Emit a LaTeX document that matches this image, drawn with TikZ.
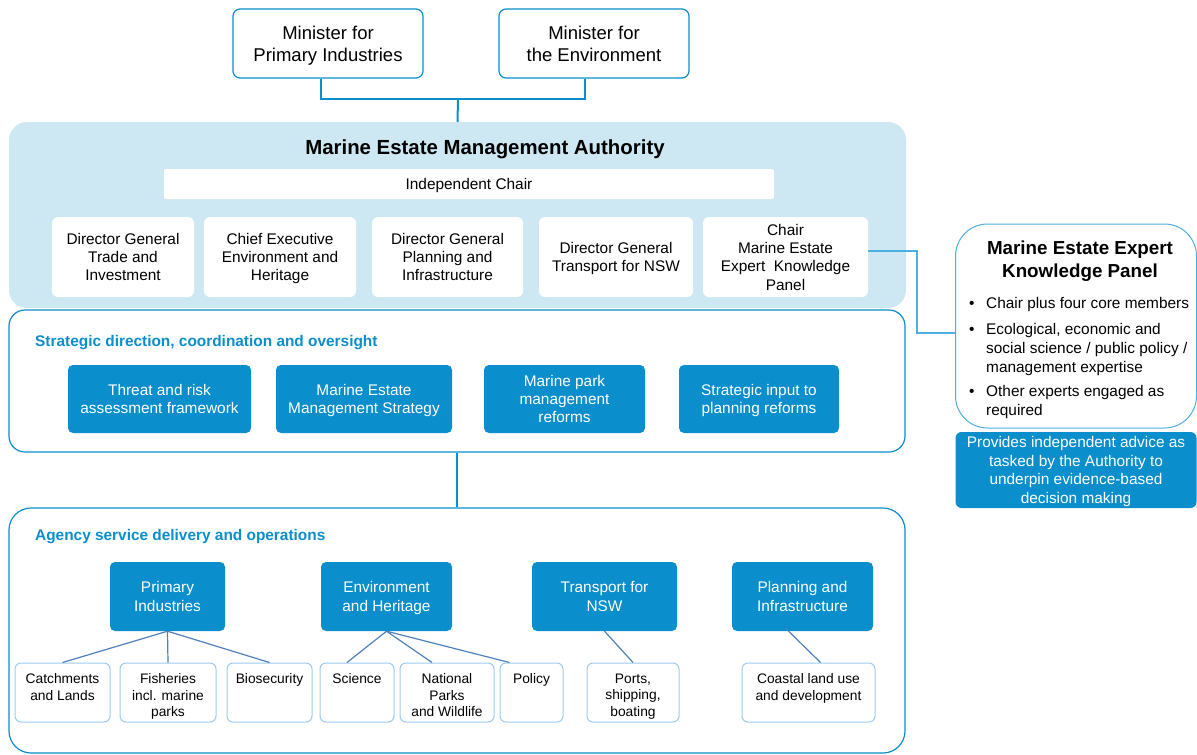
\documentclass[tikz,border=0pt]{standalone}
\usepackage{fontspec}
\setmainfont{Liberation Sans}
\definecolor{mblue}{HTML}{0A8ECC}
\definecolor{lightfill}{HTML}{CDE8F3}
\definecolor{subline}{HTML}{9DCBF0}
\definecolor{treeline}{HTML}{4F81BD}
\definecolor{paneline}{HTML}{4DAEE3}
\begin{document}
\begin{tikzpicture}[x=1pt,y=-1pt,
 minbox/.style={draw=mblue, line width=1.2pt, rounded corners=7pt, fill=white, align=center, inner sep=0pt, text depth=0pt, font=\fontsize{18.5}{22}\selectfont},
 authbox/.style={fill=lightfill, rounded corners=18pt, inner sep=0pt},
 wbox/.style={fill=white, rounded corners=6pt, align=center, inner sep=0pt, text depth=0pt, font=\fontsize{15.4}{18.3}\selectfont},
 secbox/.style={draw=mblue, line width=1.2pt, fill=white, rounded corners=16pt, inner sep=0pt},
 bbox/.style={fill=mblue, text=white, rounded corners=5pt, align=center, inner sep=0pt, text depth=0pt, font=\fontsize{15.4}{18.3}\selectfont},
 subbox/.style={draw=subline, line width=1pt, fill=white, rounded corners=6pt, inner sep=0pt},
 subtext/.style={anchor=north, align=center, inner sep=0pt, font=\fontsize{13.8}{16.5}\selectfont},
 sectitle/.style={anchor=base west, text=mblue, font=\bfseries\fontsize{15.4}{18}\selectfont, inner sep=0pt},
 conn/.style={draw=mblue, line width=2pt},
 treeconn/.style={draw=treeline, line width=1.2pt},
 panconn/.style={draw=paneline, line width=1.2pt},
 bodytext/.style={anchor=base west, align=left, inner sep=0pt, font=\fontsize{15.4}{19}\selectfont},
]
\useasboundingbox (0,0) rectangle (1197,755);

% Ministers
\node[minbox, minimum width=190pt, minimum height=69pt] (mpi) at (328,43.5) {Minister for\\Primary Industries};
\node[minbox, minimum width=190pt, minimum height=69pt] (menv) at (594,43.5) {Minister for\\the Environment};

% Authority
\node[authbox, minimum width=897pt, minimum height=186pt] (auth) at (457.5,215) {};
\coordinate (jn) at (458,99);
\draw[conn] ([xshift=-7pt]mpi.south) |- (jn) -| ([xshift=-9pt]menv.south);
\draw[conn] (jn) -- (auth.north);
\node[anchor=base, inner sep=0pt, font=\bfseries\fontsize{20.4}{24}\selectfont] (authtitle) at (485,154) {Marine Estate Management Authority};
\node[fill=white, rounded corners=2pt, inner sep=0pt, minimum width=610pt, minimum height=30pt, text depth=0pt, font=\fontsize{15.4}{18.3}\selectfont] (chair) at (469,184) {Independent Chair};

\node[wbox, minimum width=142pt, minimum height=80pt] (c1) at (123,257) {Director General\\Trade and\\Investment};
\node[wbox, minimum width=152pt, minimum height=80pt] (c2) at (280,257) {Chief Executive\\Environment and\\Heritage};
\node[wbox, minimum width=151pt, minimum height=80pt] (c3) at (447.5,257) {Director General\\Planning and\\Infrastructure};
\node[wbox, minimum width=154pt, minimum height=80pt] (c4) at (616,257) {Director General\\Transport for NSW};
\node[wbox, minimum width=165pt, minimum height=80pt] (c5) at (785.5,257) {Chair\\Marine Estate\\Expert\ \ Knowledge\\Panel};

% Strategic
\node[secbox, minimum width=896pt, minimum height=142pt] (strat) at (457,381) {};
\node[sectitle] (strattitle) at (35,346.5) {Strategic direction, coordination and oversight};
\node[bbox, minimum width=183pt, minimum height=68pt] (s1) at (159.5,399) {Threat and risk\\assessment framework};
\node[bbox, minimum width=176pt, minimum height=68pt] (s2) at (364,399) {Marine Estate\\Management Strategy};
\node[bbox, minimum width=161pt, minimum height=68pt] (s3) at (564.5,399) {Marine park\\management\\reforms};
\node[bbox, minimum width=160pt, minimum height=68pt] (s4) at (759,399) {Strategic input to\\planning reforms};

% Agency
\node[secbox, minimum width=896pt, minimum height=245pt, rounded corners=22pt] (agency) at (457,630.5) {};
\draw[draw=mblue, line width=1.2pt] (strat.south) -- (agency.north);
\node[sectitle] (agtitle) at (35,540.5) {Agency service delivery and operations};
\node[bbox, minimum width=115pt, minimum height=69pt] (pi) at (167.5,596.5) {Primary\\Industries};
\node[bbox, minimum width=131pt, minimum height=69pt] (eh) at (386.5,596.5) {Environment\\and Heritage};
\node[bbox, minimum width=145pt, minimum height=69pt] (tn) at (604.5,596.5) {Transport for\\NSW};
\node[bbox, minimum width=141pt, minimum height=69pt] (pl) at (802.5,596.5) {Planning and\\Infrastructure};

\node[subbox, minimum width=95pt, minimum height=59pt] (catch) at (62.5,692.5) {};
\node[subbox, minimum width=96pt, minimum height=59pt] (fish) at (168,692.5) {};
\node[subbox, minimum width=85pt, minimum height=59pt] (bio) at (269.5,692.5) {};
\node[subbox, minimum width=74pt, minimum height=59pt] (sci) at (357,692.5) {};
\node[subbox, minimum width=94pt, minimum height=59pt] (np) at (447,692.5) {};
\node[subbox, minimum width=63pt, minimum height=59pt] (pol) at (531.5,692.5) {};
\node[subbox, minimum width=92pt, minimum height=59pt] (ports) at (633,692.5) {};
\node[subbox, minimum width=133pt, minimum height=59pt] (coast) at (808.5,692.5) {};

\node[subtext] (catcht) at (62.5,673.5) {Catchments\\and Lands};
\node[subtext] (fisht) at (168,673.5) {Fisheries\\incl. marine\\parks};
\node[subtext] (biot) at (269.5,673.5) {Biosecurity};
\node[subtext] (scit) at (357,673.5) {Science};
\node[subtext] (npt) at (447,673.5) {National\\Parks\\and Wildlife};
\node[subtext] (polt) at (531.5,673.5) {Policy};
\node[subtext] (portst) at (633,673.5) {Ports,\\shipping,\\boating};
\node[subtext] (coastt) at (808.5,673.5) {Coastal land use\\and development};

\draw[treeconn] (pi.south) -- (catch.north);
\draw[treeconn] (pi.south) -- (fish.north);
\draw[treeconn] (pi.south) -- (bio.north);
\draw[treeconn] (eh.south) -- ([xshift=-10pt]sci.north);
\draw[treeconn] (eh.south) -- ([xshift=-15pt]np.north);
\draw[treeconn] (eh.south) -- ([xshift=-22pt]pol.north);
\draw[treeconn] (tn.south) -- (ports.north);
\draw[treeconn] ([xshift=-17pt,yshift=3pt]pl.south) -- ([xshift=12pt]coast.north);

% Expert panel
\node[draw=paneline, line width=1pt, fill=white, rounded corners=32pt, minimum width=241pt, minimum height=204pt, inner sep=0pt] (panel) at (1076,326) {};
\coordinate (bend) at (917,251);
\draw[panconn] ([yshift=6pt]c5.east) -- (bend) |- ([yshift=-7pt]panel.west);
\node[align=center, inner sep=0pt, font=\bfseries\fontsize{18.8}{23}\selectfont] (paneltitle) at (1080,261.5) {Marine Estate Expert\\Knowledge Panel};
\node[bodytext] (b1) at (969,308.5) {•};
\node[bodytext] (t1) at (986,308.5) {Chair plus four core members};
\node[bodytext] (b2) at (969,334.5) {•};
\node[anchor=north west, align=left, inner sep=0pt, font=\fontsize{15.4}{19}\selectfont] (t2) at (986,323) {Ecological, economic and\\social science / public policy /\\management expertise};
\node[bodytext] (b3) at (969,396.5) {•};
\node[anchor=north west, align=left, inner sep=0pt, font=\fontsize{15.4}{19}\selectfont] (t3) at (986,385) {Other experts engaged as\\required};

\node[bbox, rounded corners=6pt, minimum width=241pt, minimum height=76pt, font=\fontsize{15.4}{18.7}\selectfont] (advice) at (1076,470) {Provides independent advice as\\tasked by the Authority to\\underpin evidence-based\\decision making};
\end{tikzpicture}
\end{document}
